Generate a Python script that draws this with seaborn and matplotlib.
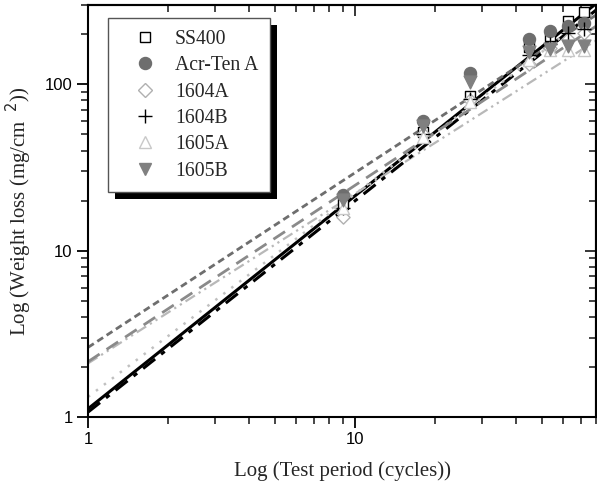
import numpy as np
import pandas as pd
import matplotlib
matplotlib.use("Agg")
import matplotlib.pyplot as plt
import seaborn as sns
from matplotlib.lines import Line2D
from matplotlib.patches import Rectangle
from matplotlib.ticker import LogLocator, NullFormatter, FuncFormatter

# ---- data ----
cycles = [9, 18, 27, 45, 54, 63, 72]
series_names = ["SS400", "Acr-Ten A", "1604A", "1604B", "1605A", "1605B"]
ss400 = [19, 52, 85, 167, 195, 240, 272]
acr_ten_a = [21.7, 60, 117, 187, 208, 224, 233]
s1604a = [16, 50, 80, 132, 165, 187, 205]
s1604b = [18, 50, 82, 150, 175, 205, 215]
s1605a = [18, 48, 78, 140, 160, 160, 160]
s1605b = [20.3, 56, 103, 156, 163, 170, 170]
# power-law fit lines  y = a * x**b
fit_a = [1.12, 2.62, 2.10, 1.07, 1.32, 2.15]
fit_b = [1.28, 1.05, 1.02, 1.27, 1.22, 1.06]

values = [ss400, acr_ten_a, s1604a, s1604b, s1605a, s1605b]

sns.set_style("ticks")
plt.rcParams["font.family"] = ["Liberation Sans", "DejaVu Sans"]

fig = plt.figure(figsize=(5.97, 4.88), dpi=100)
ax = fig.add_axes([88/597, (488-417)/488, 508/597, 412/488])

line_styles = {
    "SS400": dict(color="black", linestyle="-", linewidth=2.2),
    "Acr-Ten A": dict(color="#6e6e6e", linestyle=(0, (2.5, 1.5)), linewidth=2.0),
    "1604A": dict(color="#b8b8b8", linestyle=(0, (5, 2, 1, 2, 1, 2)), linewidth=1.6),
    "1604B": dict(color="black", linestyle=(0, (5, 2.5, 1.5, 2.5)), linewidth=2.2),
    "1605A": dict(color="#c0c0c0", linestyle=(0, (1, 3)), linewidth=1.8),
    "1605B": dict(color="#8a8a8a", linestyle=(0, (5, 3)), linewidth=2.0),
}
marker_styles = {
    "SS400": dict(marker="s", s=55, facecolor="white", edgecolor="black", linewidth=1.0),
    "Acr-Ten A": dict(marker="o", s=75, facecolor="#6e6e6e", edgecolor="#6e6e6e", linewidth=1.0),
    "1604A": dict(marker="D", s=45, facecolor="white", edgecolor="#b0b0b0", linewidth=1.0),
    "1604B": dict(marker="+", s=90, color="black", linewidth=1.0),
    "1605A": dict(marker="^", s=75, facecolor="white", edgecolor="#c8c8c8", linewidth=1.0),
    "1605B": dict(marker="v", s=85, facecolor="#808080", edgecolor="#808080", linewidth=1.0),
}

xgrid = np.logspace(0, np.log10(80), 200)
for name, a, b in zip(series_names, fit_a, fit_b):
    sns.lineplot(x=xgrid, y=a * xgrid ** b, ax=ax, **line_styles[name])

for name, vals in zip(series_names, values):
    df = pd.DataFrame({"x": cycles, "y": vals})
    sns.scatterplot(data=df, x="x", y="y", ax=ax, zorder=5, **marker_styles[name])

ax.set_xscale("log")
ax.set_yscale("log")
ax.set_xlim(1, 80)
ax.set_ylim(1, 300)

fmt = FuncFormatter(lambda v, p: f"{v:g}")
for axis in (ax.xaxis, ax.yaxis):
    axis.set_major_locator(LogLocator(base=10))
    axis.set_minor_locator(LogLocator(base=10, subs=np.arange(2, 10)))
    axis.set_major_formatter(fmt)
    axis.set_minor_formatter(NullFormatter())

for sp in ax.spines.values():
    sp.set_visible(True)
    sp.set_linewidth(1.5)
    sp.set_color("black")

ax.tick_params(which="major", direction="out", length=8, width=1.3, labelsize=12, colors="black", pad=3)
ax.tick_params(which="minor", direction="out", length=5, width=1.2)

sx = ax.secondary_xaxis("top")
sy = ax.secondary_yaxis("right")
for sa, axis in ((sx, sx.xaxis), (sy, sy.yaxis)):
    axis.set_major_locator(LogLocator(base=10))
    axis.set_minor_locator(LogLocator(base=10, subs=np.arange(2, 10)))
    axis.set_major_formatter(NullFormatter())
    axis.set_minor_formatter(NullFormatter())
    sa.tick_params(which="major", direction="in", length=8, width=1.3)
    sa.tick_params(which="minor", direction="in", length=5, width=1.2)
    for sp in sa.spines.values():
        sp.set_linewidth(1.5)

ax.set_xlabel("Log (Test period (cycles))", family=["Liberation Serif"], fontsize=15, labelpad=10)
ax.set_ylabel("Log (Weight loss (mg/cm$^{\\ \\ 2}$))", family=["Liberation Serif"], fontsize=15, labelpad=8)

handles = []
for name in series_names:
    ms = marker_styles[name]
    if ms["marker"] == "+":
        h = Line2D([], [], linestyle="none", marker="+", markersize=10, color="black", markeredgewidth=1.0)
    else:
        h = Line2D([], [], linestyle="none", marker=ms["marker"], markersize=np.sqrt(ms["s"]),
                   markerfacecolor=ms["facecolor"], markeredgecolor=ms["edgecolor"], markeredgewidth=1.0)
    handles.append(h)

leg = ax.legend(handles, series_names, loc="upper left", bbox_to_anchor=(0.039, 0.968),
                prop={"family": "Liberation Serif", "size": 14.2}, frameon=True, fancybox=False,
                borderpad=0.6, labelspacing=0.37, handletextpad=0.2, borderaxespad=0,
                handlelength=2.6, markerscale=1.0)
leg.get_frame().set_edgecolor("#555555")
leg.get_frame().set_linewidth(1.0)
leg.get_frame().set_alpha(1)
leg.set_zorder(20)

fig.canvas.draw()
bb = leg.get_window_extent()
inv = fig.transFigure.inverted()
(x0, y0), (x1, y1) = inv.transform([(bb.x0 + 7, bb.y0 - 7), (bb.x1 + 7, bb.y1 - 7)])
shadow = Rectangle((x0, y0), x1 - x0, y1 - y0, transform=fig.transFigure,
                   facecolor="black", edgecolor="none", zorder=19)
ax.add_artist(shadow)
shadow.set_clip_on(False)

fig.savefig("out.png", dpi=100)
